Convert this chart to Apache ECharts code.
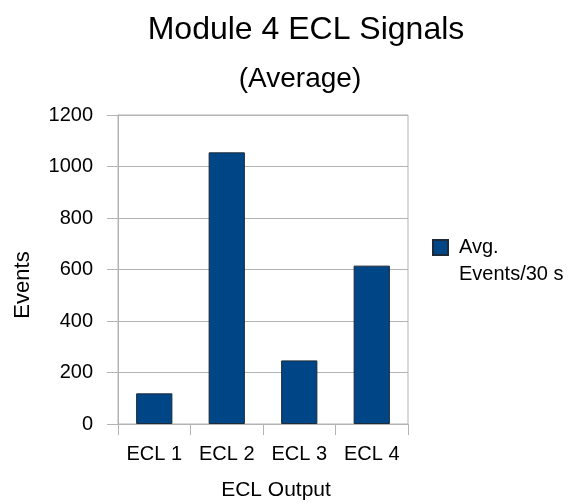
<!DOCTYPE html>
<html>
<head>
<meta charset="utf-8">
<script src="https://cdn.jsdelivr.net/npm/echarts@6/dist/echarts.min.js"></script>
<style>
  html, body { margin: 0; padding: 0; background: #fff; }
  #chart { width: 578px; height: 504px; }
</style>
</head>
<body>
<div id="chart"></div>
<script>
// ECL output channels and their average event counts per 30 s
const categories = ['ECL 1', 'ECL 2', 'ECL 3', 'ECL 4'];
const avgEvents = [119, 1055, 247, 615];
const seriesName = 'Avg.\nEvents/30 s';
const xAxisTitle = 'ECL Output';
const yAxisTitle = 'Events';

const FONT = '"Liberation Sans", Arial, sans-serif';
const GRID_COLOR = '#b3b3b3';

const chart = echarts.init(document.getElementById('chart'), null, { renderer: 'canvas' });

chart.setOption({
  animation: false,
  backgroundColor: '#ffffff',
  textStyle: { fontFamily: FONT },
  title: [
    {
      text: 'Module 4 ECL Signals',
      left: 301, top: 9, textAlign: 'center',
      textStyle: { fontFamily: FONT, fontSize: 32, fontWeight: 'normal', color: '#000' }
    },
    {
      text: '(Average)',
      left: 295, top: 60, textAlign: 'center',
      textStyle: { fontFamily: FONT, fontSize: 28, fontWeight: 'normal', color: '#000' }
    }
  ],
  legend: {
    left: 432, top: 207,
    orient: 'vertical',
    padding: 0,
    itemWidth: 15, itemHeight: 15,
    // blank leading line so the first text line sits level with the swatch
    formatter: (name) => '\n' + name,
    textStyle: {
      fontFamily: FONT, fontSize: 20, color: '#000', lineHeight: 27,
      padding: [0, 0, 0, 6]
    },
    data: [{ name: seriesName, icon: 'rect' }]
  },
  grid: {
    left: 118, right: 170, top: 115, bottom: 80,
    show: true, borderColor: GRID_COLOR, borderWidth: 1
  },
  xAxis: {
    type: 'category',
    data: categories,
    axisLine: { lineStyle: { color: GRID_COLOR } },
    axisTick: { show: true, alignWithLabel: false, length: 11, lineStyle: { color: GRID_COLOR } },
    axisLabel: { fontFamily: FONT, fontSize: 20, color: '#000', margin: 20 },
    splitLine: { show: false }
  },
  yAxis: {
    type: 'value',
    min: 0, max: 1200, interval: 200,
    axisLine: { show: true, lineStyle: { color: GRID_COLOR } },
    axisTick: { show: true, length: 11, lineStyle: { color: GRID_COLOR } },
    axisLabel: {
      fontFamily: FONT, fontSize: 20, color: '#000', margin: 25,
      formatter: (v) => String(v)
    },
    splitLine: { show: true, lineStyle: { color: GRID_COLOR, width: 1 } }
  },
  graphic: [
    {
      type: 'text',
      x: 276, y: 490,
      style: {
        text: xAxisTitle, fontFamily: FONT, fontSize: 21, fill: '#000',
        textAlign: 'center', textVerticalAlign: 'middle'
      }
    },
    {
      type: 'text',
      x: 23, y: 285, rotation: Math.PI / 2,
      style: {
        text: yAxisTitle, fontFamily: FONT, fontSize: 22, fill: '#000',
        textAlign: 'center', textVerticalAlign: 'middle'
      }
    }
  ],
  series: [
    {
      name: seriesName,
      type: 'bar',
      data: avgEvents,
      barWidth: '50%',
      itemStyle: { color: '#004586', borderColor: '#1c2a3a', borderWidth: 1 }
    }
  ]
});
</script>
</body>
</html>
